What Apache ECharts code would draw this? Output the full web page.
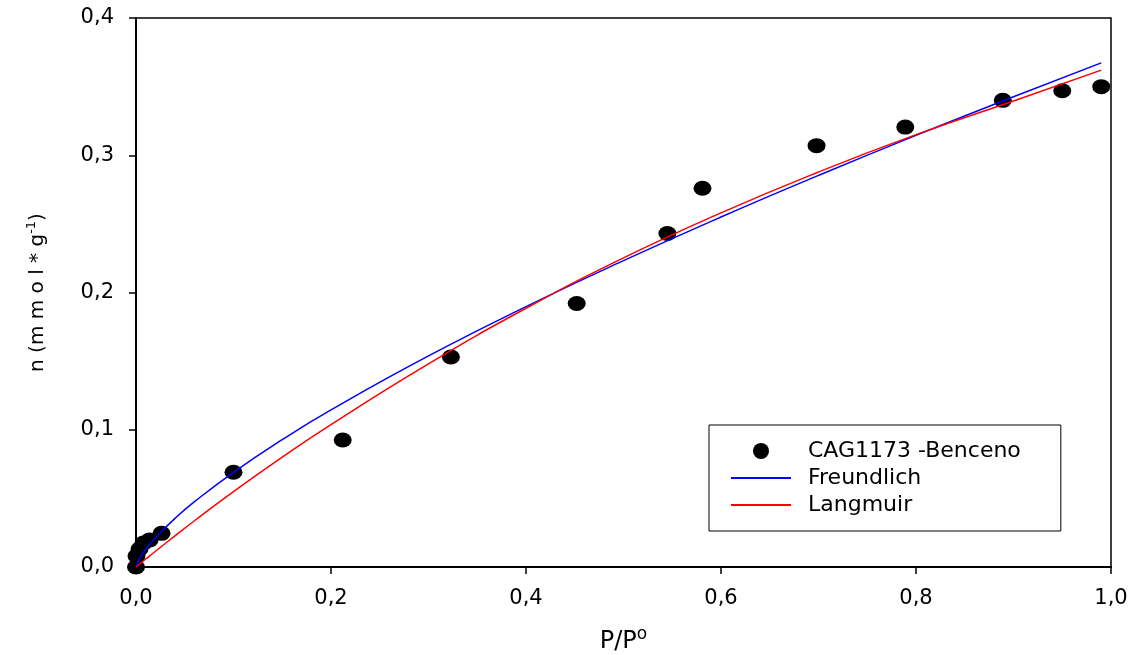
<!DOCTYPE html>
<html>
<head>
<meta charset="utf-8">
<script src="https://cdn.jsdelivr.net/npm/echarts@6/dist/echarts.min.js"></script>
<style>
html,body{margin:0;padding:0;background:#fff;}
#chart{width:1133px;height:655px;}
</style>
</head>
<body>
<div id="chart"></div>
<script>
// Measured data: CAG1173 - Benceno
const dataX = [0, 0.0005, 0.0036, 0.0077, 0.0139, 0.0262, 0.100, 0.212, 0.323, 0.452, 0.545, 0.581, 0.698, 0.789, 0.889, 0.950, 0.990];
const dataY = [0, 0.008, 0.0131, 0.0175, 0.0197, 0.0245, 0.069, 0.0925, 0.153, 0.192, 0.243, 0.276, 0.307, 0.3205, 0.340, 0.347, 0.350];

// Fitted curves
const curveX = [0, 0.005, 0.01, 0.02, 0.04, 0.06, 0.1, 0.15, 0.2, 0.3, 0.4, 0.5, 0.6, 0.7, 0.8, 0.9, 0.99];
const freundlichY = [0, 0.0078, 0.0129, 0.0213, 0.0354, 0.0476, 0.0690, 0.0928, 0.1145, 0.1538, 0.1897, 0.2232, 0.2550, 0.2853, 0.3145, 0.3426, 0.3673];
const langmuirY = [0, 0.0029, 0.0058, 0.0115, 0.0227, 0.0337, 0.0549, 0.0800, 0.1038, 0.1480, 0.1885, 0.2252, 0.2580, 0.2878, 0.3150, 0.3395, 0.3620];

const seriesNames = ['CAG1173 -Benceno', 'Freundlich', 'Langmuir'];

const zip = (xs, ys) => xs.map((x, i) => [x, ys[i]]);
const fmt = v => v.toFixed(1).replace('.', ',');
const FONT = 'DejaVu Sans, Liberation Sans, sans-serif';

const chart = echarts.init(document.getElementById('chart'));
chart.setOption({
  animation: false,
  backgroundColor: '#fff',
  grid: {left: 136, right: 22, top: 18, bottom: 88, containLabel: false, outerBoundsMode: 'none', show: true, borderColor: '#000', borderWidth: 1.5, backgroundColor: 'transparent'},
  xAxis: {
    type: 'value', min: 0, max: 1, interval: 0.2,
    name: '{a|P/P}{s|o}', nameLocation: 'middle', nameGap: 59,
    nameTextStyle: {fontFamily: FONT, fontSize: 24, color: '#000', rich: {
      a: {fontSize: 24, fontFamily: FONT, color: '#000', lineHeight: 28, verticalAlign: 'bottom'},
      s: {fontSize: 17, fontFamily: FONT, color: '#000', lineHeight: 12, verticalAlign: 'top'}
    }},
    axisLine: {lineStyle: {color: '#000', width: 2}},
    axisTick: {show: true, length: 7, lineStyle: {color: '#000', width: 1.5}},
    splitLine: {show: false},
    axisLabel: {formatter: fmt, fontSize: 21, color: '#000', fontFamily: FONT, margin: 21}
  },
  yAxis: {
    type: 'value', min: 0, max: 0.4, interval: 0.1,
    name: '{a|n (m m o l * g}{s|-1}{a|)}', nameLocation: 'middle', nameGap: 86,
    nameTextStyle: {fontFamily: FONT, fontSize: 20, color: '#000', rich: {a: {fontSize: 20, fontFamily: FONT, color: '#000'}, s: {fontSize: 13, fontFamily: FONT, color: '#000', padding: [0, 0, 12, 0]}}},
    axisLine: {show: true, lineStyle: {color: '#000', width: 2}},
    axisTick: {show: true, length: 7, lineStyle: {color: '#000', width: 1.5}},
    splitLine: {show: false},
    axisLabel: {formatter: fmt, fontSize: 21, color: '#000', fontFamily: FONT, margin: 22}
  },
  legend: {
    left: 709, top: 425,
    orient: 'vertical',
    borderColor: '#000', borderWidth: 1,
    padding: [14, 40, 14, 21],
    itemWidth: 60, itemHeight: 16, itemGap: 3,
    textStyle: {fontSize: 22, color: '#000', fontFamily: FONT, lineHeight: 24, padding: [0, 0, 0, 12]},
    data: [
      {name: seriesNames[0]},
      {name: seriesNames[1], itemStyle: {opacity: 0}},
      {name: seriesNames[2], itemStyle: {opacity: 0}}
    ]
  },
  series: [
    {name: seriesNames[0], type: 'scatter', data: zip(dataX, dataY), symbol: 'circle', symbolSize: [18, 15], itemStyle: {color: '#000', opacity: 1}, z: 2},
    {name: seriesNames[1], type: 'line', data: zip(curveX, freundlichY), smooth: true, showSymbol: false, symbol: 'none', lineStyle: {color: '#0000ff', width: 1.5}, itemStyle: {color: '#0000ff'}, z: 3},
    {name: seriesNames[2], type: 'line', data: zip(curveX, langmuirY), smooth: true, showSymbol: false, symbol: 'none', lineStyle: {color: '#ff0000', width: 1.5}, itemStyle: {color: '#ff0000'}, z: 3}
  ]
});
</script>
</body>
</html>
